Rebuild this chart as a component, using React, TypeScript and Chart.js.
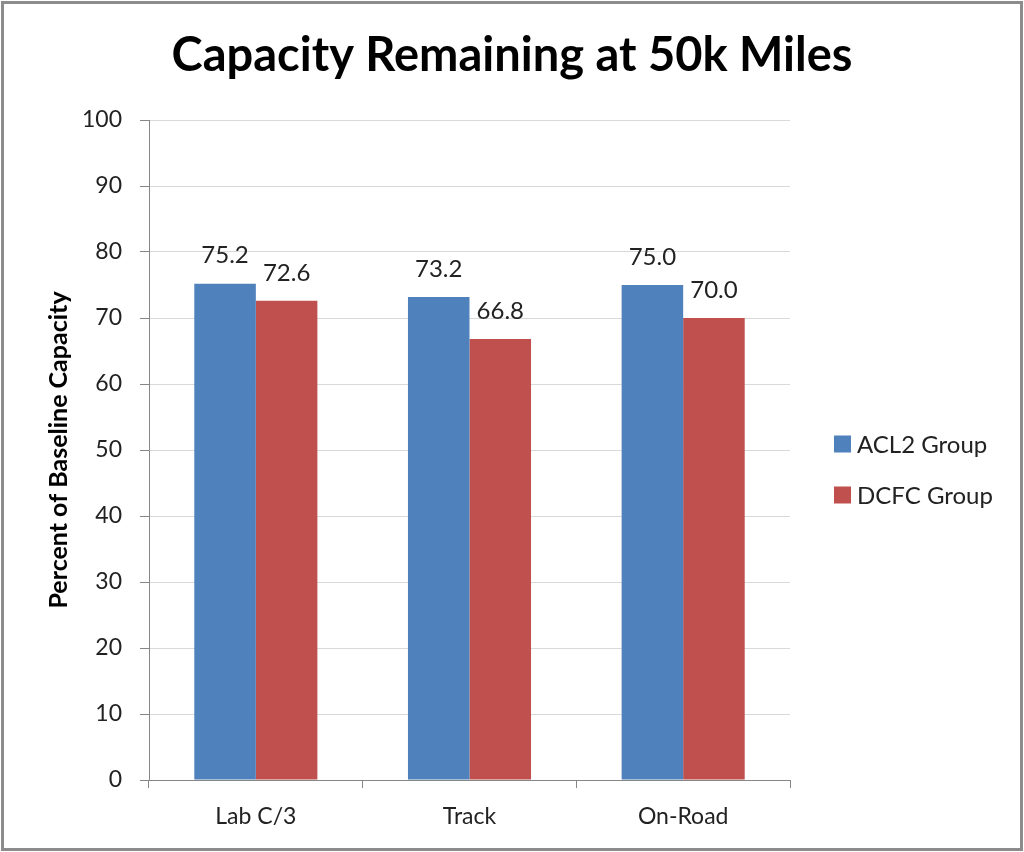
import React, { useEffect, useRef } from "react";
import { Chart, registerables } from "chart.js";

Chart.register(...registerables);

const titleText = "Capacity Remaining at 50k Miles";
const yAxisTitle = "Percent of Baseline Capacity";
const categories = ["Lab C/3", "Track", "On-Road"];
const acl2Values = [75.2, 73.2, 75.0];
const dcfcValues = [72.6, 66.8, 70.0];
const seriesNames = ["ACL2 Group", "DCFC Group"];
const seriesColors = ["#4F81BD", "#C0504D"];
const yTicks = [0, 10, 20, 30, 40, 50, 60, 70, 80, 90, 100];

const FONT = "Lato, 'Open Sans', sans-serif";

const decorPlugin = {
  id: "decor",
  beforeDraw(chart: any) {
    const { ctx, width, height } = chart;
    ctx.save();
    ctx.fillStyle = "#ffffff";
    ctx.fillRect(0, 0, width, height);
    ctx.restore();
  },
  afterDraw(chart: any) {
    const { ctx, width, height } = chart;
    ctx.save();
    // title
    ctx.font = `bold 47px ${FONT}`;
    ctx.fillStyle = "#000000";
    ctx.textAlign = "center";
    ctx.textBaseline = "middle";
    ctx.fillText(titleText, width / 2, 56);
    // data labels
    ctx.font = `24px ${FONT}`;
    ctx.fillStyle = "#222222";
    chart.data.datasets.forEach((ds: any, di: number) => {
      const meta = chart.getDatasetMeta(di);
      meta.data.forEach((bar: any, i: number) => {
        ctx.fillText(Number(ds.data[i]).toFixed(1), bar.x, bar.y - 28);
      });
    });
    // legend
    const lx = 834;
    const ys = [444, 495];
    chart.data.datasets.forEach((ds: any, di: number) => {
      ctx.fillStyle = ds.backgroundColor;
      ctx.fillRect(lx, ys[di] - 8.5, 17, 17);
      ctx.fillStyle = "#222222";
      ctx.textAlign = "left";
      ctx.font = `24px ${FONT}`;
      ctx.fillText(ds.label, lx + 23, ys[di] + 1);
    });
    // border
    ctx.strokeStyle = "#8c8c8c";
    ctx.lineWidth = 3;
    ctx.strokeRect(2.5, 2.5, width - 5, height - 5);
    ctx.restore();
  },
};

export default function App() {
  const ref = useRef<HTMLCanvasElement | null>(null);

  useEffect(() => {
    if (!ref.current) return;
    const chart = new Chart(ref.current, {
      type: "bar",
      data: {
        labels: categories,
        datasets: [
          {
            label: seriesNames[0],
            data: acl2Values,
            backgroundColor: seriesColors[0],
            categoryPercentage: 0.576,
            barPercentage: 1,
          },
          {
            label: seriesNames[1],
            data: dcfcValues,
            backgroundColor: seriesColors[1],
            categoryPercentage: 0.576,
            barPercentage: 1,
          },
        ],
      },
      options: {
        animation: false,
        responsive: false,
        devicePixelRatio: 1,
        layout: { padding: { left: 0, right: 234, top: 120, bottom: 12 } },
        plugins: {
          legend: { display: false },
          tooltip: { enabled: false },
          title: { display: false },
        },
        scales: {
          x: {
            type: "category",
            grid: {
              offset: true,
              drawOnChartArea: false,
              drawTicks: true,
              tickLength: 8,
              tickColor: "#868686",
              tickWidth: 1,
            },
            border: { color: "#868686", width: 1 },
            ticks: {
              color: "#222222",
              font: { family: FONT, size: 23 },
              padding: 15,
            },
            afterFit(scale: any) {
              scale.height = 60;
            },
          },
          y: {
            min: 0,
            max: 100,
            afterBuildTicks(scale: any) {
              scale.ticks = yTicks.map((v) => ({ value: v }));
            },
            grid: {
              color: "#d9d9d9",
              tickColor: "#868686",
              tickLength: 9,
              lineWidth: 1,
            },
            border: { color: "#868686", width: 1 },
            ticks: {
              color: "#222222",
              font: { family: FONT, size: 23 },
              padding: 18,
            },
            title: {
              display: true,
              text: yAxisTitle,
              color: "#000000",
              font: { family: FONT, size: 25, weight: "bold", lineHeight: 1.2 },
              padding: { top: 44, bottom: 0 },
            },
            afterFit(scale: any) {
              scale.width = 149;
            },
          },
        },
      },
      plugins: [decorPlugin],
    });
    return () => chart.destroy();
  }, []);

  return (
    <div style={{ position: "fixed", left: 0, top: 0, width: 1024, height: 852 }}>
      <canvas ref={ref} width={1024} height={852} style={{ display: "block", width: 1024, height: 852 }} />
    </div>
  );
}
